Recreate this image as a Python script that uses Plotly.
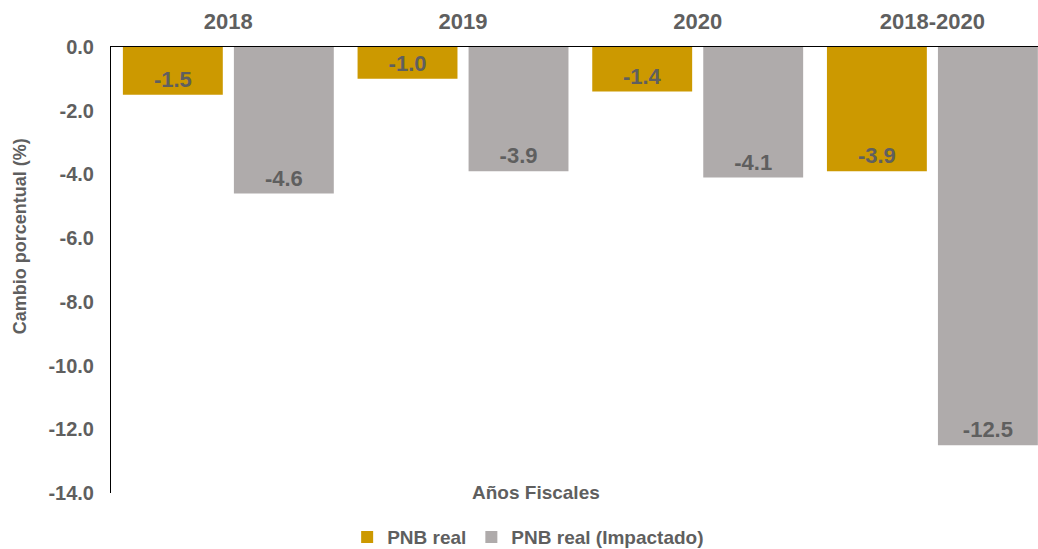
import plotly.graph_objects as go

categories = ["2018", "2019", "2020", "2018-2020"]
pnb_real = [-1.5, -1.0, -1.4, -3.9]
pnb_impactado = [-4.6, -3.9, -4.1, -12.5]
y_ticks = [0, -2, -4, -6, -8, -10, -12, -14]
y_tick_labels = ["0.0", "-2.0", "-4.0", "-6.0", "-8.0", "-10.0", "-12.0", "-14.0"]

FONT = "Liberation Sans, Arial, sans-serif"
TXT = "#5f5f5f"

fig = go.Figure()
fig.add_trace(go.Bar(
    x=categories, y=pnb_real, name="PNB real",
    marker=dict(color="#CC9900", line=dict(width=0)),
    text=[f"{v:.1f}" for v in pnb_real], textposition="inside",
    insidetextanchor="end", textangle=0,
    textfont=dict(family=FONT, size=22, color=TXT, weight="bold"),
))
fig.add_trace(go.Bar(
    x=categories, y=pnb_impactado, name="PNB real (Impactado)",
    marker=dict(color="#AFABAB", line=dict(width=0)),
    text=[f"{v:.1f}" for v in pnb_impactado], textposition="inside",
    insidetextanchor="end", textangle=0,
    textfont=dict(family=FONT, size=22, color=TXT, weight="bold"),
))

fig.update_layout(
    width=1038, height=549,
    margin=dict(l=111, r=0, t=47, b=56, autoexpand=False),
    paper_bgcolor="white", plot_bgcolor="white",
    barmode="group", bargap=0.054, bargroupgap=0.1,
    font=dict(family=FONT, color=TXT, size=19),
    showlegend=True,
    legend=dict(orientation="h", x=0.45, xanchor="center", y=-0.099, yanchor="middle",
                font=dict(family=FONT, size=19, color=TXT, weight="bold"),
                itemwidth=30, traceorder="normal", tracegroupgap=0),
    uniformtext=dict(minsize=10, mode="show"),
)
fig.update_xaxes(
    range=[-0.5, 3.45],
    side="top", showline=True, linecolor="black", linewidth=1,
    showgrid=False, ticks="", ticklabelstandoff=8, automargin=False,
    tickfont=dict(family=FONT, size=22, color=TXT, weight="bold"),
)
fig.update_yaxes(
    range=[-14, 0], tickvals=y_ticks, ticktext=y_tick_labels,
    showline=True, linecolor="black", linewidth=1, showgrid=False,
    zeroline=False, ticks="", ticklabelstandoff=12, automargin=False,
    tickfont=dict(family=FONT, size=20, color=TXT, weight="bold"),
)
fig.add_annotation(text="Cambio porcentual (%)", xref="paper", yref="paper",
                   x=-0.098, y=0.576, textangle=-90, showarrow=False,
                   xanchor="center", yanchor="middle",
                   font=dict(family=FONT, size=18, color=TXT, weight="bold"))
fig.add_annotation(text="Años Fiscales", xref="paper", yref="paper",
                   x=0.4585, y=0.002, showarrow=False,
                   xanchor="center", yanchor="middle",
                   font=dict(family=FONT, size=19, color=TXT, weight="bold"))

fig.write_html("out.html", config={"displayModeBar": False},
               post_script="document.body.style.margin='0';document.body.style.overflow='hidden';")
